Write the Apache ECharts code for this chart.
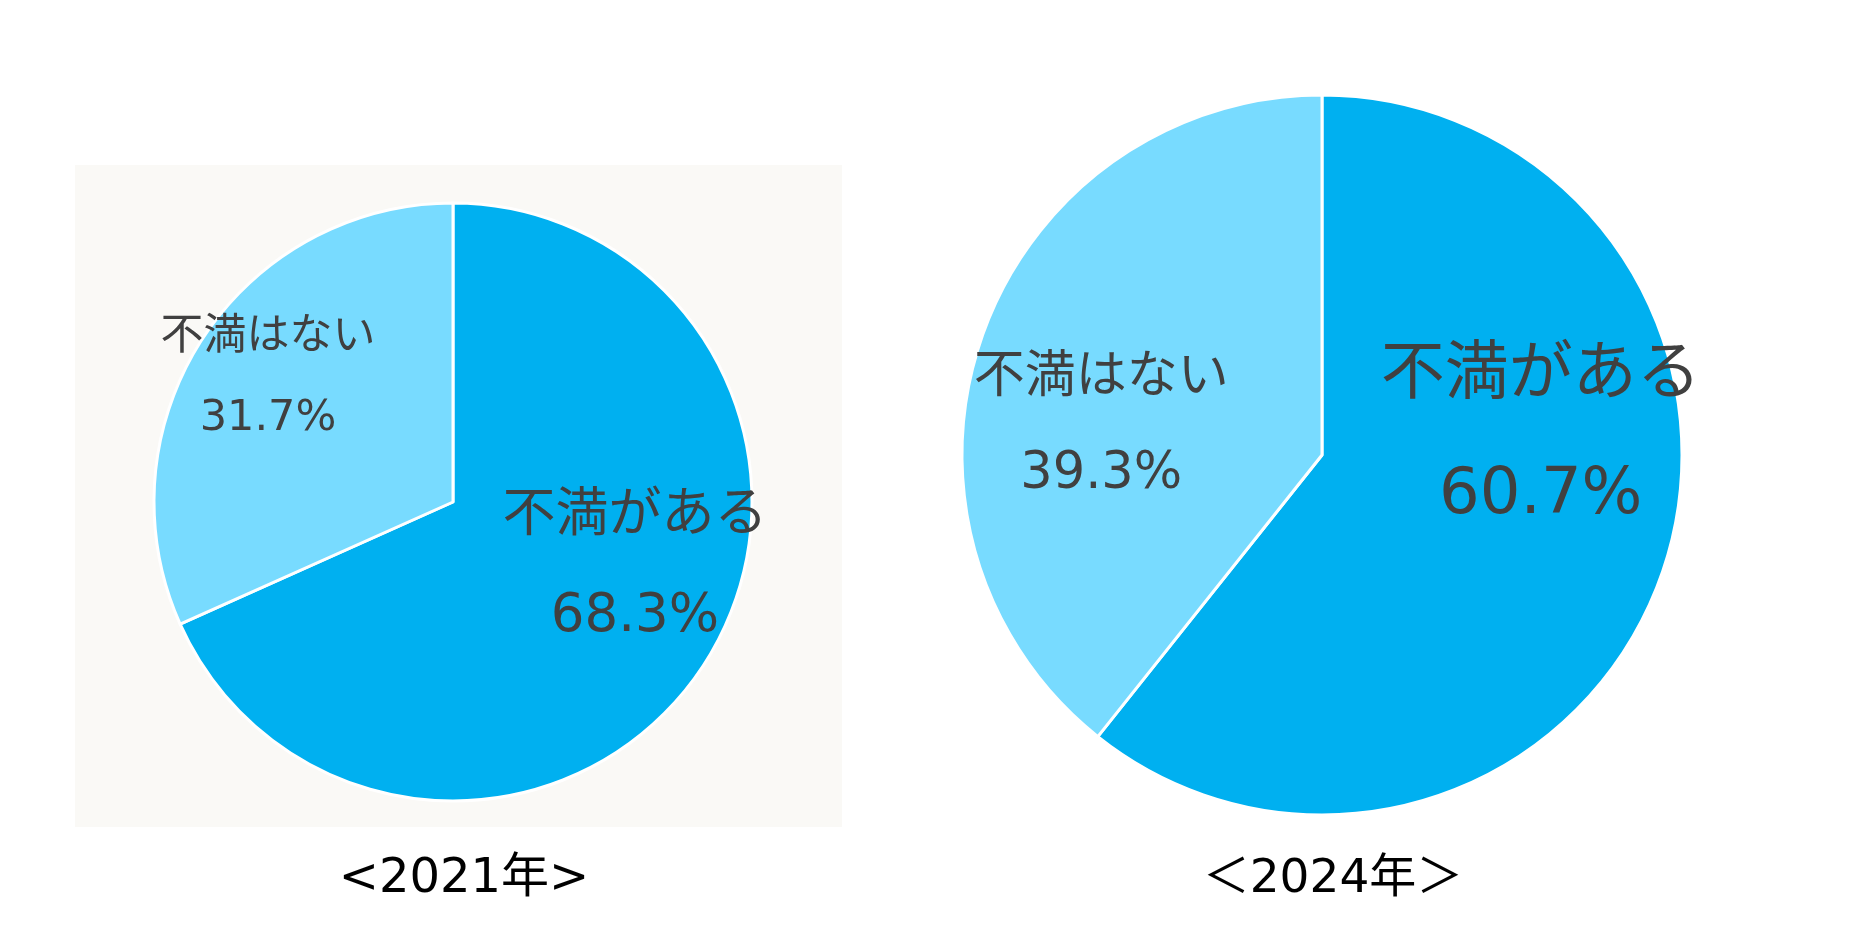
<!DOCTYPE html>
<html>
<head>
<meta charset="utf-8">
<script src="https://cdn.jsdelivr.net/npm/echarts@6/dist/echarts.min.js"></script>
<style>
html,body{margin:0;padding:0;background:#fff;}
#c{width:1867px;height:950px;}
</style>
</head>
<body>
<div id="c"></div>
<script>
const categories = ['不満がある', '不満はない'];
const values2021 = [68.3, 31.7];
const values2024 = [60.7, 39.3];
const titles = ['<2021年>', '＜2024年＞'];

const colors = ['#00B0F0', '#78DBFF'];
const textColor = '#404040';
const FONT = '"Noto Sans CJK JP", "Noto Sans", sans-serif';
const NUMFONT = '"DejaVu Sans", "Noto Sans CJK JP", sans-serif';

function makeData(vals) {
  return categories.map((n, i) => ({ name: n, value: vals[i], itemStyle: { color: colors[i] } }));
}

function pieSeries(vals, center, radius, fonts, offsets) {
  return {
    type: 'pie',
    center: center,
    radius: radius,
    startAngle: 90,
    clockwise: true,
    animation: false,
    silent: true,
    itemStyle: { borderColor: '#ffffff', borderWidth: 3 },
    label: {
      show: true,
      position: 'inside',
      formatter: function (p) {
        return '{n' + p.dataIndex + '|' + p.name + '}\n{v' + p.dataIndex + '|' + p.value.toFixed(1) + '%}';
      },
      rich: {
        n0: { fontSize: fonts[0], lineHeight: fonts[0] * 2, color: textColor, fontFamily: FONT },
        v0: { fontSize: fonts[0], lineHeight: fonts[0] * 2, color: textColor, fontFamily: NUMFONT },
        n1: { fontSize: fonts[1], lineHeight: fonts[1] * 2, color: textColor, fontFamily: FONT },
        v1: { fontSize: fonts[1], lineHeight: fonts[1] * 2, color: textColor, fontFamily: NUMFONT }
      }
    },
    labelLine: { show: false },
    labelLayout: function (params) {
      const o = offsets[params.dataIndex];
      return { dx: o[0], dy: o[1] };
    },
    data: makeData(vals)
  };
}

const chart = echarts.init(document.getElementById('c'), null, { renderer: 'canvas' });
chart.setOption({
  backgroundColor: '#ffffff',
  animation: false,
  graphic: [{
    type: 'rect',
    z: -10,
    shape: { x: 75, y: 165, width: 767, height: 662 },
    style: { fill: '#FAF9F6' },
    silent: true
  }],
  title: [
    { text: titles[0], left: 459, top: 845, textAlign: 'center',
      textStyle: { fontSize: 48, fontWeight: 'normal', color: '#000', fontFamily: NUMFONT, lineHeight: 60 } },
    { text: titles[1], left: 1328, top: 845, textAlign: 'center',
      textStyle: { fontSize: 47, fontWeight: 'normal', color: '#000', fontFamily: NUMFONT, lineHeight: 60 } }
  ],
  series: [
    pieSeries(values2021, [453, 502], 299, [53, 43], [[54, -21], [-57, -43]]),
    pieSeries(values2024, [1322, 455], 360, [64, 51], [[46, -83], [-48, 29]])
  ]
});
</script>
</body>
</html>
